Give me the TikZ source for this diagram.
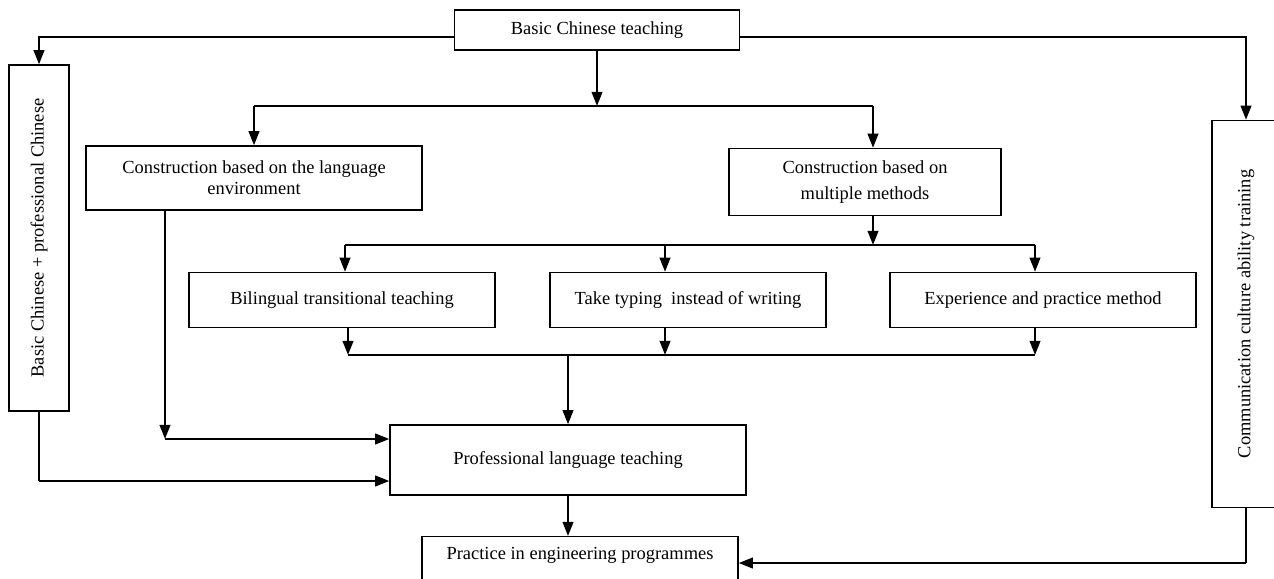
\documentclass[tikz,border=0pt]{standalone}
\usepackage{fontspec}
\setmainfont{Liberation Serif}
\usetikzlibrary{arrows.meta}

\begin{document}
\begin{tikzpicture}[x=0.02cm,y=-0.02cm,
    font=\fontsize{10.5}{12}\selectfont,
    box/.style={draw,line width=0.8pt,inner sep=0pt,align=center},
    sz/.style 2 args={minimum width=#1*0.02cm,minimum height=#2*0.02cm},
    arr/.style={-{Triangle[length=8pt,width=6pt]},line width=1.2pt},
    link/.style={line width=0.6pt}]
    \path[use as bounding box,clip] (0,0) rectangle (1274,578);

    \node[box,sz={285}{40}]  (top)   at (597,30)  {Basic Chinese teaching};
    \node[box,sz={60}{346}]  (lv)    at (39,238)  {\rotatebox{90}{Basic Chinese + professional Chinese}};
    \node[box,sz={68}{387}]  (rv)    at (1246,314) {\rotatebox{90}{Communication culture ability training}};
    \node[box,sz={336}{64}]  (env)   at (254,178) {Construction based on the language\\environment};
    \node[box,sz={272}{67}]  (multi) at (865,182) {Construction based on\\[2.5pt]multiple methods};
    \node[box,sz={306}{55}]  (bil)   at (342,300) {Bilingual transitional teaching};
    \node[box,sz={276}{55}]  (typ)   at (688,300) {Take typing\ \ instead of writing};
    \node[box,sz={306}{55}]  (exp)   at (1043,300) {Experience and practice method};
    \node[box,sz={356}{70}]  (prof)  at (568,460) {Professional language teaching};
    \node[box,minimum width=316*0.02cm,inner ysep=3.5pt,text height=9.5pt,text depth=22pt,anchor=north]
                             (prac)  at (580,536) {Practice in engineering programmes};

    % from the top box
    \draw[arr] ([yshift=-7*0.02cm]top.west) -| (lv);
    \draw[arr] ([yshift=-7*0.02cm]top.east) -| (rv);

    \coordinate (ja) at (254,106);
    \coordinate (jb) at (873,106);
    \draw[arr] (top) -- (top |- ja);
    \draw[link] (ja) -- (jb);
    \draw[arr] (ja) -- (env);
    \draw[arr] (jb) -- (jb |- multi.north);

    % methods
    \coordinate (mc) at (873,245);
    \coordinate (m1) at (345,245);
    \coordinate (m2) at (665,245);
    \coordinate (m3) at (1035,245);
    \draw[arr] (mc |- multi.south) -- (mc);
    \draw[link] (m1) -- (m3);
    \foreach \m/\n in {m1/bil,m2/typ,m3/exp}
        \draw[arr] (\m) -- (\m |- \n.north);

    \coordinate (n1) at (348,355);
    \coordinate (n2) at (665,355);
    \coordinate (n3) at (1035,355);
    \coordinate (nc) at (568,355);
    \foreach \m/\n in {n1/bil,n2/typ,n3/exp}
        \draw[arr] (\m |- \n.south) -- (\m);
    \draw[link] (n1) -- (n3);
    \draw[arr] (nc) -- (prof);

    % into professional teaching
    \coordinate (e1) at (165,439);
    \draw[arr] (e1 |- env.south) -- (e1);
    \draw[arr] (e1) -- (e1 -| prof.west);

    \coordinate (l1) at (39,481);
    \draw[link] (lv) -- (l1);
    \draw[arr] (l1) -- (l1 -| prof.west);

    % into practice
    \draw[arr] (prof) -- (prof |- prac.north);
    \coordinate (r1) at (1246,563);
    \draw[link] (rv) -- (r1);
    \draw[arr] (r1) -- (r1 -| prac.east);
\end{tikzpicture}
\end{document}
